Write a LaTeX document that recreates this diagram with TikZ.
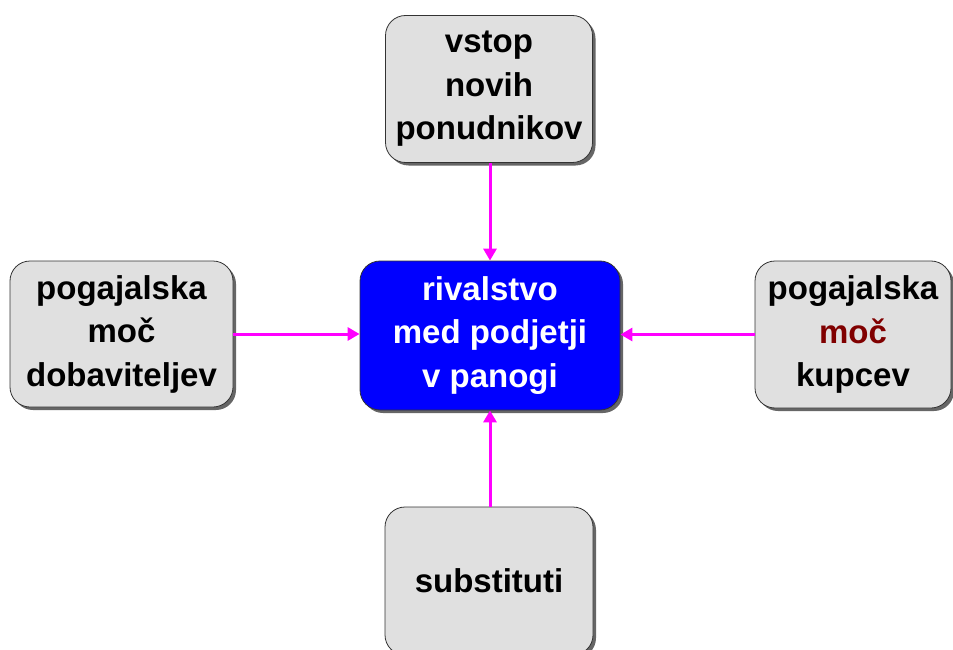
\documentclass[tikz,border=0pt]{standalone}
\usepackage{fontspec}
\setmainfont{Liberation Sans}
\usetikzlibrary{arrows.meta,shadows}
\definecolor{boxgray}{HTML}{E0E0E0}
\definecolor{darkred}{HTML}{800000}
\definecolor{linkpink}{HTML}{FF00FF}
\tikzset{
  force/.style={draw=black!80, line width=0.8pt, fill=boxgray, rounded corners=20pt,
    align=center, font=\fontsize{33}{43.5}\selectfont\bfseries, inner sep=0pt,
    drop shadow={shadow xshift=3pt, shadow yshift=-3pt, fill=black!60, opacity=1}},
  rivalry/.style={force, fill=blue, text=white},
  push/.style={draw=linkpink, line width=3pt, -{Triangle[length=12pt,width=13pt]}}
}
\begin{document}
\begin{tikzpicture}[x=1pt,y=-1pt]
  \useasboundingbox (0,0) rectangle (953,650);
  \node[rivalry, minimum width=260pt, minimum height=149pt] (center) at (490,335.5)
    {rivalstvo\\med podjetji\\v panogi};
  \node[force, minimum width=207pt, minimum height=147pt] (entry) at (489,89)
    {vstop\\novih\\ponudnikov};
  \node[force, minimum width=223pt, minimum height=146pt] (supply) at (121.5,334)
    {pogajalska\\moč\\dobaviteljev};
  \node[force, minimum width=196pt, minimum height=147pt] (buyers) at (853,334.5)
    {pogajalska\\\textcolor{darkred}{moč}\\kupcev};
  \node[force, minimum width=208pt, minimum height=148pt] (subst) at (489,581)
    {substituti};
  \draw[push] (entry.south -| center.north) -- (center.north);
  \draw[push] (supply.east) -- (supply.east -| center.west);
  \draw[push] (buyers.west) -- (buyers.west -| center.east);
  \draw[push] (subst.north -| center.south) -- (center.south);
\end{tikzpicture}
\end{document}
